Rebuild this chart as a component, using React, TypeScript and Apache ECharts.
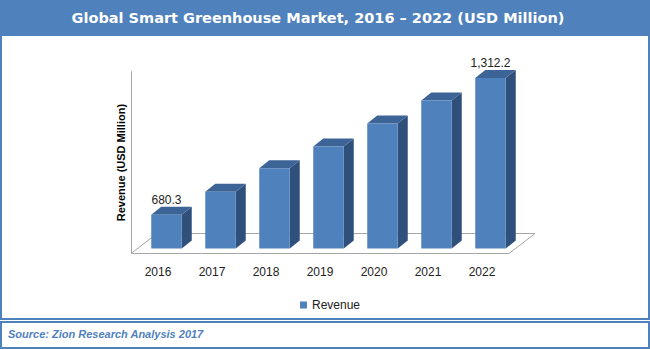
import React, { useEffect, useRef } from "react";
import * as echarts from "echarts";

const years = ["2016", "2017", "2018", "2019", "2020", "2021", "2022"];
const revenue = [680.3, 786.4, 894.8, 996.0, 1102.4, 1208.4, 1312.2];
const labeledYears = ["2016", "2022"];
const seriesName = "Revenue";
const axisTitle = "Revenue (USD Million)";
const chartTitle = "Global Smart Greenhouse Market, 2016 \u2013 2022 (USD Million)";
const sourceText = "Source: Zion Research Analysis 2017";
const Y_MIN = 525;
const Y_MAX = 1364;

const BLUE = "#4F81BD";
const SIDE = "#30507C";
const TOP = "#3C6496";
const GRID_GRAY = "#A6A6A6";
const FONT = "'Liberation Sans', Arial, sans-serif";

const fmt = (v: number) =>
  v.toLocaleString("en-US", { minimumFractionDigits: 1, maximumFractionDigits: 1 });

export default function App() {
  const ref = useRef<HTMLDivElement>(null);
  useEffect(() => {
    if (!ref.current) return;
    const chart = echarts.init(ref.current, undefined, { renderer: "svg" });
    const FLOOR_DX = 26;
    const FLOOR_DY = 20;
    const BAR_SHIFT_X = 8.5;
    const BAR_SHIFT_Y = 5;
    const BAR_W = 30.5;
    const DEPTH_X = 10;
    const DEPTH_Y = 8;

    const option: any = {
      animation: false,
      backgroundColor: "#ffffff",
      grid: { left: 131, right: 141, top: 71.7, bottom: 96.5, containLabel: false },
      legend: {
        data: [{ name: seriesName, icon: "rect" }],
        top: 294,
        left: 295,
        itemWidth: 7,
        itemHeight: 7,
        textStyle: { fontFamily: FONT, fontSize: 12, color: "#222" },
      },
      xAxis: {
        type: "category",
        data: years,
        axisLine: { show: false },
        axisTick: { show: false },
        axisLabel: { fontFamily: FONT, fontSize: 12, color: "#222", margin: 12 },
        splitLine: { show: false },
      },
      yAxis: {
        type: "value",
        min: Y_MIN,
        max: Y_MAX,
        axisLine: { show: true, lineStyle: { color: GRID_GRAY, width: 1 } },
        axisTick: { show: false },
        axisLabel: { show: false },
        splitLine: { show: false },
        name: axisTitle,
        nameLocation: "middle",
        nameRotate: 90,
        nameGap: 5,
        nameTextStyle: { fontFamily: FONT, fontSize: 11, fontWeight: "bold", color: "#000" },
      },
      series: [
        {
          name: "floor",
          type: "custom",
          silent: true,
          z: 1,
          clip: false,
          data: [[0, Y_MIN]],
          renderItem: (params: any) => {
            const cs = params.coordSys;
            const xl = cs.x;
            const xr = cs.x + cs.width;
            const yb = cs.y + cs.height;
            return {
              type: "polygon",
              shape: {
                points: [
                  [xl, yb],
                  [xr, yb],
                  [xr + FLOOR_DX, yb - FLOOR_DY],
                  [xl + FLOOR_DX, yb - FLOOR_DY],
                ],
              },
              style: { fill: "#ffffff", stroke: GRID_GRAY, lineWidth: 1 },
            };
          },
        },
        {
          name: seriesName,
          type: "custom",
          z: 2,
          clip: false,
          itemStyle: { color: BLUE },
          data: revenue.map((v, i) => [i, v]),
          encode: { x: 0, y: 1 },
          renderItem: (params: any, api: any) => {
            const i = api.value(0);
            const v = api.value(1);
            const top = api.coord([i, v]);
            const base = api.coord([i, Y_MIN]);
            const cx = top[0] + BAR_SHIFT_X;
            const x0 = cx - BAR_W / 2;
            const x1 = cx + BAR_W / 2;
            const yT = top[1] - BAR_SHIFT_Y;
            const yB = base[1] - BAR_SHIFT_Y;
            const children: any[] = [
              {
                type: "polygon",
                shape: {
                  points: [
                    [x1, yT],
                    [x1 + DEPTH_X, yT - DEPTH_Y],
                    [x1 + DEPTH_X, yB - DEPTH_Y],
                    [x1, yB],
                  ],
                },
                style: { fill: SIDE },
              },
              {
                type: "polygon",
                shape: {
                  points: [
                    [x0, yT],
                    [x0 + DEPTH_X, yT - DEPTH_Y],
                    [x1 + DEPTH_X, yT - DEPTH_Y],
                    [x1, yT],
                  ],
                },
                style: { fill: TOP },
              },
              {
                type: "rect",
                shape: { x: x0, y: yT, width: BAR_W, height: yB - yT },
                style: { fill: BLUE },
              },
            ];
            if (labeledYears.includes(years[i])) {
              children.push({
                type: "text",
                style: {
                  text: fmt(v),
                  x: cx,
                  y: yT - 15,
                  textAlign: "center",
                  textVerticalAlign: "middle",
                  fill: "#222",
                  font: `12px ${FONT}`,
                },
              });
            }
            return { type: "group", children };
          },
        },
      ],
      graphic: [
        {
          type: "rect",
          z: 0,
          shape: { x: 0, y: 0, width: 650, height: 36 },
          style: { fill: BLUE },
        },
        {
          type: "rect",
          z: 0,
          shape: { x: 1, y: 35, width: 648, height: 284 },
          style: { fill: "none", stroke: BLUE, lineWidth: 2 },
        },
        {
          type: "rect",
          z: 0,
          shape: { x: 1, y: 322, width: 648, height: 26 },
          style: { fill: "none", stroke: BLUE, lineWidth: 2 },
        },
        {
          type: "text",
          z: 5,
          style: {
            text: chartTitle,
            x: 318,
            y: 18,
            textAlign: "center",
            textVerticalAlign: "middle",
            fill: "#ffffff",
            font: "bold 14.5px 'DejaVu Sans', Verdana, sans-serif",
          },
        },
        {
          type: "text",
          z: 5,
          style: {
            text: sourceText,
            x: 8,
            y: 334,
            textAlign: "left",
            textVerticalAlign: "middle",
            fill: BLUE,
            font: `italic bold 11px ${FONT}`,
          },
        },
      ],
    };
    chart.setOption(option);
    return () => chart.dispose();
  }, []);
  return (
    <div
      ref={ref}
      style={{ position: "fixed", left: 0, top: 0, width: 650, height: 350 }}
    />
  );
}
